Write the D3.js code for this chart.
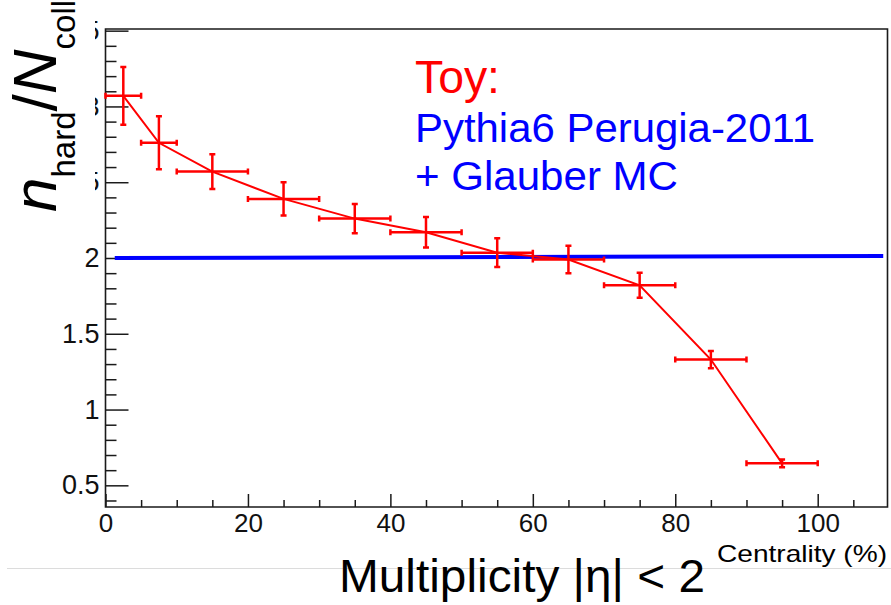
<!DOCTYPE html>
<html>
<head>
<meta charset="utf-8">
<script src="https://cdn.jsdelivr.net/npm/d3@7"></script>
<style>
  html, body { margin: 0; padding: 0; background: #fff; }
  svg { display: block; }
  text { font-family: "Liberation Sans", Arial, Helvetica, sans-serif; }
</style>
</head>
<body>
<svg id="chart" width="891" height="605"></svg>
<script>
// ---------- data ----------
const centrality   = [2.5, 7.5, 15, 25, 35, 45, 55, 65, 75, 85, 95];
const binLow       = [0, 5, 10, 20, 30, 40, 50, 60, 70, 80, 90];
const binHigh      = [5, 10, 20, 30, 40, 50, 60, 70, 80, 90, 100];
const toyRatio     = [3.07, 2.76, 2.57, 2.39, 2.26, 2.17, 2.035, 1.99, 1.82, 1.33, 0.645];
const toyError     = [0.19, 0.175, 0.115, 0.11, 0.097, 0.1, 0.095, 0.09, 0.083, 0.057, 0.025];
const glauberX     = [1.3, 109.2];
const glauberY     = [2.0, 2.013];
const xTickValues  = [0, 20, 40, 60, 80, 100];
const xTickLabels  = ["0", "20", "40", "60", "80", "100"];
const yTickValues  = [0.5, 1, 1.5, 2, 2.5, 3, 3.5];
const yTickLabels  = ["0.5", "1", "1.5", "2", "2.5", "3", "3.5"];
const legendLines  = ["Toy:", "Pythia6 Perugia-2011", "+ Glauber MC"];

// ---------- layout ----------
const svg = d3.select("#chart");
const L = 105.5, R = 887.5, T = 29, B = 507;
const x = d3.scaleLinear().domain([0, 109.8]).range([L, R]);
const y = d3.scaleLinear().domain([0.357, 3.511]).range([B, T]);
const RED = "#ff0000", BLUE = "#0000ff", AX = "#1a1a1a";

// separator line under the plot
svg.append("line").attr("x1", 7).attr("x2", 891).attr("y1", 568.5).attr("y2", 568.5)
  .attr("stroke", "#dcdcdc").attr("stroke-width", 1.2);

// ---------- axes ----------
const xMinor = d3.range(0, 110, 5).filter(v => !xTickValues.includes(v));
const yMinor = d3.range(4, 36, 1).map(v => v / 10).filter(v => !yTickValues.some(t => Math.abs(t - v) < 1e-6));

const xAxis = d3.axisBottom(x).tickValues(xTickValues)
  .tickFormat((d, i) => xTickLabels[i]).tickSizeInner(-13).tickSizeOuter(0).tickPadding(22);
const gx = svg.append("g").attr("transform", `translate(0,${B})`).call(xAxis);
gx.select(".domain").remove();
gx.selectAll(".tick line").attr("stroke", AX).attr("stroke-width", 1.5);
gx.selectAll(".tick text").attr("font-size", 26).attr("fill", "#111")
  .attr("font-family", "Liberation Sans, Arial, sans-serif").attr("dy", "0.71em").attr("y", 7);

const gxm = svg.append("g").attr("transform", `translate(0,${B})`)
  .call(d3.axisBottom(x).tickValues(xMinor).tickFormat("").tickSizeInner(-7).tickSizeOuter(0));
gxm.select(".domain").remove();
gxm.selectAll(".tick line").attr("stroke", AX).attr("stroke-width", 1.5);

const yAxis = d3.axisLeft(y).tickValues(yTickValues)
  .tickFormat((d, i) => yTickLabels[i]).tickSizeInner(-23).tickSizeOuter(0).tickPadding(6);
const gy = svg.append("g").attr("transform", `translate(${L},0)`).call(yAxis);
gy.select(".domain").remove();
gy.selectAll(".tick line").attr("stroke", AX).attr("stroke-width", 1.5);
gy.selectAll(".tick text").attr("font-size", 27).attr("fill", "#111").attr("x", -6)
  .attr("font-family", "Liberation Sans, Arial, sans-serif");

const gym = svg.append("g").attr("transform", `translate(${L},0)`)
  .call(d3.axisLeft(y).tickValues(yMinor).tickFormat("").tickSizeInner(-11).tickSizeOuter(0));
gym.select(".domain").remove();
gym.selectAll(".tick line").attr("stroke", AX).attr("stroke-width", 1.5);

// frame
svg.append("path")
  .attr("d", `M${L},${T}V${B}H${R}V${T}Z`)
  .attr("fill", "none").attr("stroke", AX).attr("stroke-width", 1.6);

// white patch hiding upper y labels (as in the reference)
svg.append("rect").attr("x", 0).attr("y", 0).attr("width", 95).attr("height", 205).attr("fill", "#fff");

// ---------- Glauber line ----------
const lineGen = d3.line().x(d => x(d[0])).y(d => y(d[1]));
svg.append("path").datum(glauberX.map((v, i) => [v, glauberY[i]]))
  .attr("d", lineGen).attr("fill", "none").attr("stroke", BLUE).attr("stroke-width", 4);

// ---------- Toy points ----------
const pts = centrality.map((c, i) => ({ c, lo: binLow[i], hi: binHigh[i], v: toyRatio[i], e: toyError[i] }));
svg.append("path").datum(pts.map(p => [p.c, p.v]))
  .attr("d", lineGen).attr("fill", "none").attr("stroke", RED).attr("stroke-width", 2);

const cap = 3;
const eb = svg.append("g").attr("stroke", RED).attr("stroke-width", 2.5).attr("fill", "none");
pts.forEach(p => {
  const cx = x(p.c), cy = y(p.v);
  const x0 = x(p.lo), x1 = x(p.hi), y0 = y(p.v - p.e), y1 = y(p.v + p.e);
  eb.append("path").attr("d",
    `M${x0},${cy}H${x1}M${x0},${cy - cap}V${cy + cap}M${x1},${cy - cap}V${cy + cap}` +
    `M${cx},${y0}V${y1}M${cx - cap},${y0}H${cx + cap}M${cx - cap},${y1}H${cx + cap}`);
});

// ---------- legend text ----------
svg.append("text").attr("x", 415).attr("y", 93).attr("font-size", 46).attr("fill", RED)
  .attr("textLength", 85).attr("lengthAdjust", "spacingAndGlyphs").text(legendLines[0]);
svg.append("text").attr("x", 415).attr("y", 142).attr("font-size", 41).attr("fill", BLUE)
  .attr("textLength", 400).attr("lengthAdjust", "spacingAndGlyphs").text(legendLines[1]);
svg.append("text").attr("x", 415).attr("y", 190).attr("font-size", 41).attr("fill", BLUE)
  .attr("textLength", 263).attr("lengthAdjust", "spacingAndGlyphs").text(legendLines[2]);

// ---------- axis titles ----------
svg.append("text").attr("x", 339).attr("y", 592).attr("font-size", 46).attr("fill", "#000")
  .attr("textLength", 366).attr("lengthAdjust", "spacingAndGlyphs")
  .text("Multiplicity |η| < 2");
svg.append("text").attr("x", 717).attr("y", 562).attr("font-size", 24).attr("fill", "#000")
  .attr("textLength", 170).attr("lengthAdjust", "spacingAndGlyphs")
  .text("Centrality (%)");

const yt = svg.append("text").attr("transform", "translate(56,212) rotate(-90)").attr("fill", "#000");
yt.append("tspan").attr("font-size", 62).attr("font-style", "italic").text("n");
yt.append("tspan").attr("font-size", 33).attr("dy", 19).text("hard");
yt.append("tspan").attr("font-size", 62).attr("dy", -19).text("/");
yt.append("tspan").attr("font-size", 62).attr("font-style", "italic").text("N");
yt.append("tspan").attr("font-size", 33).attr("dy", 19).text("coll");
</script>
</body>
</html>
